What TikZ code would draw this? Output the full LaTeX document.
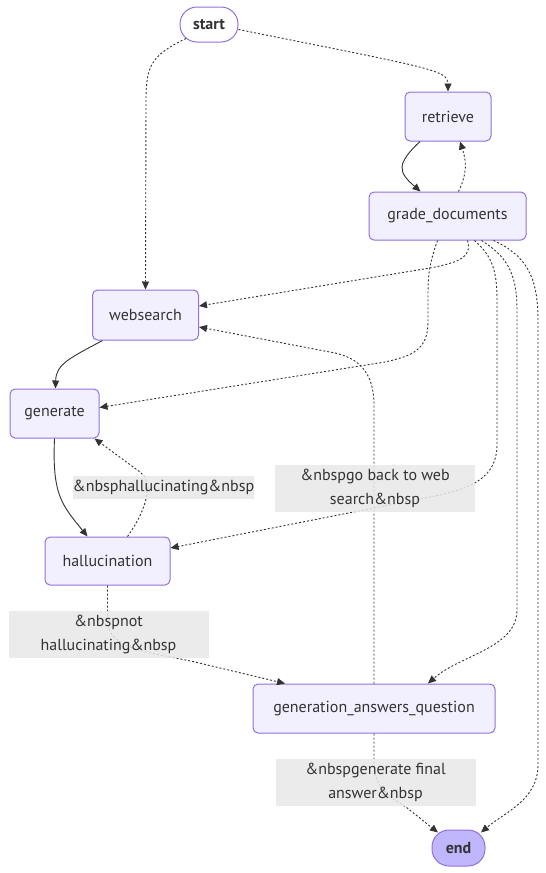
\documentclass[tikz,border=0pt]{standalone}
\usepackage{fontspec}
\setmainfont{PT Sans}
\usetikzlibrary{arrows.meta}
\definecolor{nodefill}{HTML}{F2F0FF}
\definecolor{nodeline}{HTML}{9370DB}
\definecolor{endfill}{HTML}{BFB6FC}
\definecolor{edgegray}{HTML}{333333}
\definecolor{labelfill}{HTML}{E8E8E8}

\begin{document}
\begin{tikzpicture}[x=1pt,y=-1pt,
  font=\fontsize{16}{24}\selectfont,
  graphnode/.style={draw=nodeline,fill=nodefill,line width=1pt,rounded corners=5pt,text=edgegray,inner sep=0pt},
  terminal/.style={graphnode,rounded corners=17pt,font=\fontsize{16}{24}\selectfont\bfseries},
  edgelabel/.style={fill=labelfill,fill opacity=0.85,text opacity=1,text=edgegray,inner sep=0pt,align=center},
  solidflow/.style={draw=edgegray,line width=0.9pt,-{Triangle[length=8pt,width=7pt]}},
  dotflow/.style={solidflow,dash pattern=on 2pt off 2pt}]
\fill[white] (0,0) rectangle (546,873);
\useasboundingbox (0,0) rectangle (546,873);

% graph nodes
\node[terminal,fill=white,minimum width=58pt,minimum height=35pt] (start) at (209,24.5) {start};
\node[graphnode,minimum width=86pt,minimum height=49pt] (retrieve) at (448,116.5) {retrieve};
\node[graphnode,minimum width=157pt,minimum height=48pt] (grade) at (447.5,216) {grade\_documents};
\node[graphnode,minimum width=106pt,minimum height=50pt] (websearch) at (145.5,315) {websearch};
\node[graphnode,minimum width=89pt,minimum height=49pt] (generate) at (54.5,413.5) {generate};
\node[graphnode,minimum width=125pt,minimum height=48pt] (hallucination) at (107.5,561) {hallucination};
\node[graphnode,minimum width=242pt,minimum height=49pt] (answers) at (374,708.5) {generation\_answers\_question};
\node[terminal,fill=endfill,minimum width=53pt,minimum height=36pt] (end) at (458.5,848) {end};

% edges from start
\draw[dotflow] ([yshift=-5pt]start.east) .. controls (430,68) and (448,70) .. (retrieve.north);
\draw[dotflow] ([xshift=-23pt,yshift=-14pt]start.center) .. controls (152,55) and (146,65) .. (146,100) -- (websearch.north);

% retrieve and grade_documents
\draw[solidflow] ([xshift=-28pt]retrieve.south) .. controls (396,164) and (398,172) .. ([xshift=-27pt]grade.north);
\draw[dotflow] ([xshift=11pt]grade.north) .. controls (468,172) and (466,160) .. ([xshift=12pt]retrieve.south);

% edges from grade_documents
\draw[dotflow] ([xshift=20pt]grade.south) .. controls (472,256) and (462,262) .. (430,268) -- ([yshift=9pt]websearch.east);
\draw[dotflow] ([xshift=-10pt]grade.south) .. controls (430,262) and (428,272) .. (428,295) -- (428,322)
  .. controls (428,350) and (412,356) .. (385,362) -- ([yshift=6pt]generate.east);
\draw[dotflow] ([xshift=27pt]grade.south) .. controls (492,256) and (497,270) .. (497,300) -- (497,445)
  .. controls (497,478) and (470,488) .. (440,495) -- ([yshift=13pt]hallucination.east);
\draw[dotflow] ([xshift=34pt]grade.south) .. controls (506,256) and (517,272) .. (517,310) -- (517,610)
  .. controls (517,648) and (460,655) .. ([xshift=54pt]answers.north);
\draw[dotflow] ([xshift=46pt]grade.south) .. controls (525,255) and (538,275) .. (538,320) -- (538,765)
  .. controls (538,800) and (505,812) .. ([xshift=22.5pt,yshift=-3pt]end.north);

% websearch, generate, hallucination
\draw[solidflow] ([xshift=-43pt]websearch.south) .. controls (70,358) and (56,364) .. ([xshift=1pt]generate.north);
\draw[solidflow] (generate.south) .. controls (52,495) and (62,505) .. ([xshift=-20pt]hallucination.north);
\draw[dotflow] ([xshift=20pt]hallucination.north) .. controls (150,505) and (152,480) .. (140,472) -- ([xshift=40pt]generate.south);
\draw[dotflow] (hallucination.south) -- (107.5,620) .. controls (107.5,650) and (150,652) .. (195,662) -- ([xshift=-89pt]answers.north);

% edges from generation_answers_question
\draw[dotflow] (answers.north) -- (374,405) .. controls (374,372) and (358,358) .. (335,353) -- ([yshift=-12pt]websearch.east);
\draw[dotflow] (answers.south) -- (374,765) .. controls (374,790) and (395,800) .. (406,807) -- ([xshift=-20.5pt,yshift=-3pt]end.north);

% edge labels
\node[edgelabel,minimum width=181pt,minimum height=23pt] (lblhall) at (163.5,487.5) {\&nbsphallucinating\&nbsp};
\node[edgelabel,minimum width=200pt,minimum height=47pt] (lblweb) at (375,488) {\&nbspgo back to web\\search\&nbsp};
\node[edgelabel,minimum width=200pt,minimum height=47pt] (lblnot) at (108.5,634.5) {\&nbspnot\\hallucinating\&nbsp};
\node[edgelabel,minimum width=200pt,minimum height=47pt] (lblfinal) at (375.5,782) {\&nbspgenerate final\\answer\&nbsp};
\end{tikzpicture}
\end{document}
